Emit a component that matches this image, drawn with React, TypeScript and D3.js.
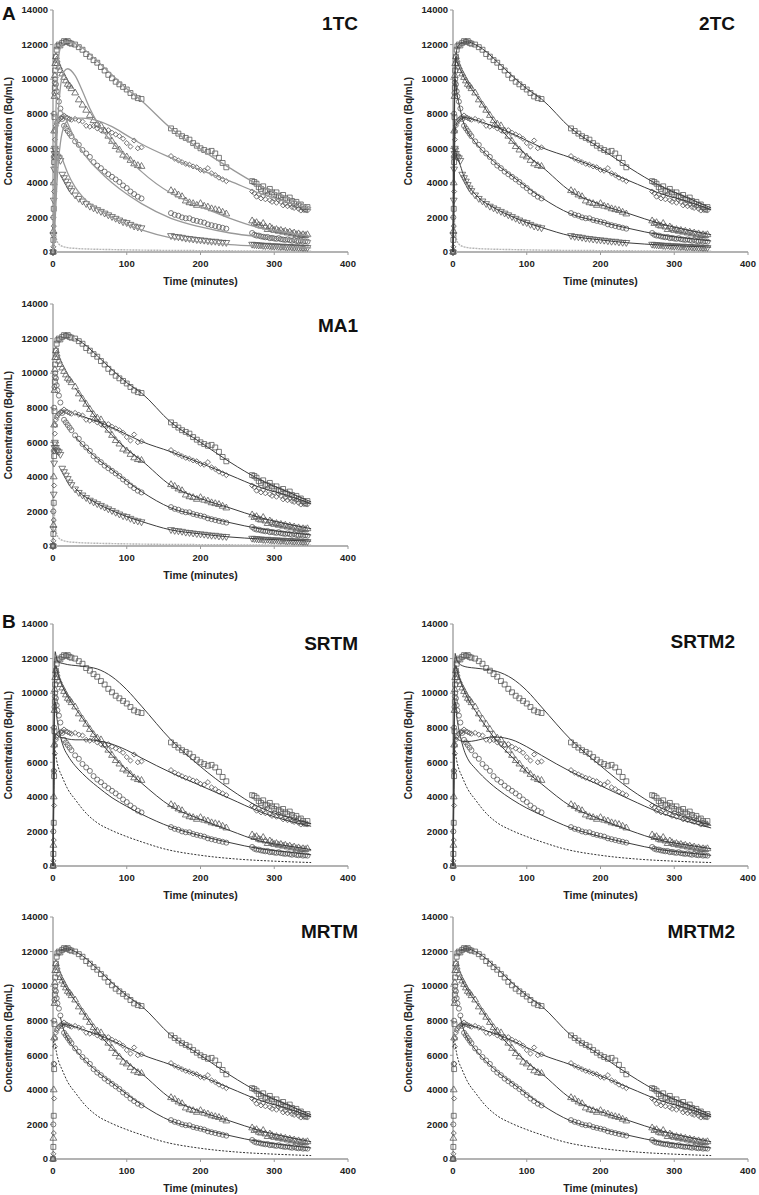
import React from "react";
import * as d3 from "d3";

// frame mid-times (minutes), three scan sessions
const time = [
  0, 0.5, 1, 1.5, 2, 2.5, 3, 4, 5, 6, 8, 10, 12.5, 15, 17.5, 20, 22.5, 25, 30, 35, 40, 45, 50, 55, 60, 65, 70, 75, 80, 85, 90, 95, 100, 105, 110, 115, 120,
  160, 165, 170, 175, 180, 185, 190, 195, 200, 205, 210, 215, 220, 225, 230, 235,
  270, 273, 276, 279, 282, 285, 288, 291, 294, 297, 300, 303, 306, 309, 312, 315, 318, 321, 324, 327, 330, 333, 336, 339, 342, 345,
];

// measured regional TACs (Bq/mL)
const squares = [
  0, 700, 2500, 5200, 7800, 9500, 10500, 11300, 11700, 11900, 12000, 11950, 12100, 12200, 12150, 12200, 12100, 12050, 12000, 11850, 11700, 11450, 11300, 11100, 10950, 10700, 10500, 10250, 10050, 9850, 9700, 9550, 9400, 9200, 9000, 8900, 8850,
  7150, 7000, 6850, 6700, 6600, 6500, 6300, 6150, 6000, 5900, 5800, 5850, 5700, 5450, 5150, 4900,
  4100, 4050, 3950, 3750, 3650, 3800, 3550, 3500, 3650, 3450, 3300, 3450, 3250, 3150, 3300, 3100, 3000, 3150, 2950, 2800, 2900, 2700, 2750, 2600, 2450, 2600,
];
const diamonds = [
  0, 300, 1500, 3500, 5500, 6500, 7000, 7300, 7450, 7550, 7650, 7750, 7800, 7900, 7800, 7750, 7700, 7650, 7700, 7600, 7550, 7300, 7250, 7300, 7150, 7050, 7000, 7050, 6900, 6800, 6700, 6550, 6300, 6100, 6450, 6000, 6050,
  5550, 5400, 5300, 5200, 5100, 5050, 4950, 4900, 4750, 4700, 4850, 4550, 4450, 4300, 4200, 4100,
  3500, 3400, 3200, 3350, 3100, 3250, 3050, 3350, 3000, 2900, 3100, 2850, 3000, 2900, 2700, 2800, 2650, 2750, 2600, 2550, 2650, 2500, 2400, 2500, 2450, 2400,
];
const triangles = [
  0, 1200, 4000, 7000, 9000, 10200, 10900, 11300, 11100, 10900, 10700, 10500, 10300, 10100, 9900, 9700, 9600, 9450, 9200, 8800, 8500, 8200, 7900, 7600, 7400, 7300, 7000, 6700, 6400, 6100, 5900, 5600, 5500, 5300, 5100, 5000, 4950,
  3550, 3450, 3300, 3200, 2950, 2850, 2800, 2700, 2800, 2650, 2600, 2500, 2450, 2400, 2300, 2200,
  1800, 1650, 1700, 1550, 1500, 1650, 1450, 1300, 1450, 1350, 1250, 1300, 1200, 1250, 1150, 1200, 1100, 1150, 1050, 1100, 1000, 1050, 950, 1000, 950, 1000,
];
const circles = [
  0, 2000, 5500, 8000, 9200, 9800, 10000, 9700, 9300, 9000, 8700, 8300, 7700, 7300, 7150, 7000, 6850, 6700, 6400, 6200, 5900, 5700, 5500, 5200, 5000, 4850, 4650, 4500, 4350, 4200, 4050, 3850, 3700, 3500, 3350, 3200, 3100,
  2250, 2150, 2100, 2000, 1950, 1950, 1850, 1800, 1750, 1700, 1600, 1550, 1500, 1450, 1400, 1350,
  1100, 1000, 950, 950, 900, 880, 850, 870, 800, 820, 780, 760, 800, 740, 720, 700, 730, 680, 650, 700, 640, 620, 660, 600, 620, 600,
];
const invTriangles = [
  0, 1000, 3000, 4800, 5700, 6000, 5900, 5700, 5550, 5500, 5450, 5300, 4500, 4300, 4100, 3900, 3700, 3550, 3300, 3100, 2950, 2800, 2650, 2550, 2450, 2350, 2250, 2150, 2050, 1950, 1850, 1750, 1700, 1600, 1500, 1450, 1400,
  950, 900, 880, 850, 800, 780, 750, 720, 700, 680, 650, 620, 620, 580, 560, 550,
  450, 430, 420, 400, 410, 380, 370, 390, 360, 350, 340, 360, 330, 320, 340, 310, 300, 320, 290, 280, 300, 270, 280, 260, 270, 260,
];

// arterial plasma input (panel A) and reference region curve (panel B)
const plasmaTime = [0, 0.5, 1, 1.5, 2, 3, 4, 5, 7.5, 10, 15, 20, 30, 50, 80, 120, 200, 280, 350];
const plasmaConc = [0, 3000, 2600, 2200, 1800, 1200, 900, 700, 480, 380, 300, 250, 210, 170, 140, 110, 80, 60, 50];
const refTime = [0.8, 1, 2, 3, 5, 8, 12, 20, 30, 45, 60, 80, 100, 120, 150, 200, 250, 300, 350];
const refConc = [6500, 7000, 6900, 6600, 6100, 5600, 5200, 4450, 3850, 3050, 2500, 2050, 1700, 1400, 1000, 620, 400, 280, 200];

// model fits, sampled at these times
const fitTime = [0, 1, 2, 3, 4, 5, 7.5, 10, 15, 20, 30, 40, 50, 60, 80, 100, 120, 160, 200, 240, 280, 320, 350];

const goodSquares = [0, 2500, 7800, 10500, 11300, 11700, 11950, 12050, 12150, 12150, 12000, 11750, 11400, 11000, 10200, 9450, 8850, 7150, 6000, 4850, 3850, 3100, 2550];
const goodDiamonds = [0, 1500, 5500, 7000, 7300, 7450, 7600, 7700, 7800, 7750, 7650, 7500, 7350, 7200, 6850, 6450, 6050, 5450, 4800, 4100, 3400, 2900, 2450];
const goodTriangles = [0, 4000, 9000, 10900, 11300, 11100, 10800, 10550, 10100, 9750, 9150, 8550, 7900, 7350, 6400, 5600, 4950, 3500, 2750, 2200, 1650, 1250, 1000];
const goodCircles = [0, 5500, 9200, 10000, 9700, 9300, 8700, 8200, 7400, 6950, 6350, 5850, 5450, 5050, 4400, 3750, 3150, 2200, 1750, 1350, 1000, 780, 640];
const goodInvTriangles = [0, 3000, 5700, 5950, 5750, 5550, 5300, 5000, 4350, 3900, 3350, 2950, 2700, 2450, 2050, 1700, 1420, 930, 700, 520, 410, 330, 280];

const oneTcSquares = [0, 1500, 4000, 6300, 8200, 9500, 11200, 11800, 12100, 12150, 12050, 11800, 11450, 11050, 10250, 9450, 8750, 7150, 5950, 4850, 3850, 3100, 2550];
const oneTcDiamonds = [0, 300, 1000, 1900, 2800, 3700, 5300, 6300, 7300, 7600, 7750, 7750, 7700, 7600, 7250, 6750, 6250, 5450, 4750, 4100, 3400, 2850, 2450];
const oneTcTriangles = [0, 800, 2200, 3700, 5000, 6200, 8300, 9500, 10450, 10600, 10200, 9300, 8300, 7500, 6350, 5500, 4650, 3400, 2650, 1950, 1400, 1100, 900];
const oneTcCircles = [0, 1000, 3000, 4800, 6200, 7200, 8100, 8200, 7900, 7450, 6500, 5800, 5250, 4800, 4000, 3350, 2800, 1950, 1450, 1100, 880, 740, 660];
const oneTcInvTriangles = [0, 700, 2000, 3300, 4300, 5000, 5600, 5650, 5100, 4550, 3750, 3200, 2800, 2500, 2000, 1600, 1280, 820, 580, 430, 340, 280, 240];

const srtmSquares = [0, 5500, 10500, 12400, 12200, 12000, 11800, 11750, 11700, 11650, 11600, 11550, 11500, 11400, 10950, 10200, 9250, 7300, 5750, 4450, 3400, 2800, 2450];
const srtmDiamonds = [0, 3000, 6500, 7500, 7650, 7600, 7500, 7450, 7400, 7350, 7300, 7300, 7300, 7250, 7050, 6700, 6250, 5400, 4650, 3900, 3150, 2600, 2300];
const srtmTriangles = [0, 5000, 10000, 11500, 11600, 11400, 11000, 10700, 10200, 9800, 9150, 8550, 7950, 7400, 6400, 5550, 4800, 3450, 2700, 2050, 1450, 1150, 950];
const srtmCircles = [0, 4500, 8500, 9500, 9200, 8700, 8000, 7500, 6800, 6400, 5800, 5350, 4950, 4600, 3950, 3450, 3000, 2250, 1750, 1350, 1000, 800, 650];

const srtm2Squares = [0, 5500, 10500, 12300, 12100, 11950, 11750, 11650, 11550, 11500, 11450, 11400, 11350, 11250, 10850, 10150, 9200, 7300, 5800, 4450, 3400, 2750, 2350];
const srtm2Diamonds = [0, 3000, 6500, 7400, 7450, 7400, 7300, 7250, 7200, 7200, 7250, 7350, 7450, 7450, 7300, 6900, 6400, 5450, 4650, 3850, 3100, 2550, 2200];
const srtm2Triangles = [0, 5000, 10000, 11500, 11600, 11400, 11000, 10700, 10150, 9700, 9000, 8350, 7750, 7200, 6300, 5450, 4750, 3450, 2700, 2050, 1500, 1200, 1000];
const srtm2Circles = [0, 4500, 8500, 9500, 9200, 8700, 8000, 7500, 6700, 6200, 5650, 5200, 4800, 4450, 3850, 3350, 2950, 2200, 1700, 1300, 950, 750, 620];

const yTicks = [0, 2000, 4000, 6000, 8000, 10000, 12000, 14000];
const xTicks = [0, 100, 200, 300, 400];

const FONT = "'Liberation Sans', Arial, Helvetica, sans-serif";
const plotW = 295;
const plotH = 242;
const colX = [53, 453];
const titleRight = [358, 735];

type Fits = { s: number[]; d: number[]; t: number[]; c: number[]; v?: number[] };
type PanelCfg = {
  title: string; col: number; top: number; titleY: number;
  fits: Fits; fitStart: number; fitColor: string; fitWidth: number;
  showInv: boolean; input: "plasma" | "ref";
};

const good: Fits = { s: goodSquares, d: goodDiamonds, t: goodTriangles, c: goodCircles, v: goodInvTriangles };

const panels: PanelCfg[] = [
  { title: "1TC", col: 0, top: 10, titleY: 30, fits: { s: oneTcSquares, d: oneTcDiamonds, t: oneTcTriangles, c: oneTcCircles, v: oneTcInvTriangles }, fitStart: 0, fitColor: "#999", fitWidth: 1.3, showInv: true, input: "plasma" },
  { title: "2TC", col: 1, top: 10, titleY: 30, fits: good, fitStart: 0, fitColor: "#3c3c3c", fitWidth: 1, showInv: true, input: "plasma" },
  { title: "MA1", col: 0, top: 304, titleY: 332, fits: good, fitStart: 30, fitColor: "#3c3c3c", fitWidth: 1, showInv: true, input: "plasma" },
  { title: "SRTM", col: 0, top: 624, titleY: 650, fits: { s: srtmSquares, d: srtmDiamonds, t: srtmTriangles, c: srtmCircles }, fitStart: 0, fitColor: "#3c3c3c", fitWidth: 1, showInv: false, input: "ref" },
  { title: "SRTM2", col: 1, top: 624, titleY: 648, fits: { s: srtm2Squares, d: srtm2Diamonds, t: srtm2Triangles, c: srtm2Circles }, fitStart: 0, fitColor: "#3c3c3c", fitWidth: 1, showInv: false, input: "ref" },
  { title: "MRTM", col: 0, top: 917, titleY: 938, fits: good, fitStart: 10, fitColor: "#3c3c3c", fitWidth: 1, showInv: false, input: "ref" },
  { title: "MRTM2", col: 1, top: 917, titleY: 938, fits: good, fitStart: 10, fitColor: "#3c3c3c", fitWidth: 1, showInv: false, input: "ref" },
];

const symSquare = d3.symbol().type(d3.symbolSquare).size(24)() as string;
const symCircle = d3.symbol().type(d3.symbolCircle).size(20)() as string;
const symTriangle = d3.symbol().type(d3.symbolTriangle).size(20)() as string;
const symDiamond = d3.symbol().type(d3.symbolSquare).size(13)() as string; // drawn rotated 45°

const Panel = ({ cfg }: { cfg: PanelCfg }) => {
  const x0 = colX[cfg.col];
  const x = d3.scaleLinear().domain([0, 400]).range([x0, x0 + plotW]);
  const y = d3.scaleLinear().domain([0, 14000]).range([cfg.top + plotH, cfg.top]);

  const fitLine = (vals: number[]) => {
    const pts = fitTime.map((t, i) => [t, vals[i]] as [number, number]).filter((p) => p[0] >= cfg.fitStart);
    return d3.line<[number, number]>().x((p) => x(p[0])).y((p) => y(p[1])).curve(d3.curveMonotoneX)(pts) || "";
  };
  const inputPath =
    cfg.input === "plasma"
      ? d3.line<number>().x((_, i) => x(plasmaTime[i])).y((d) => y(d)).curve(d3.curveMonotoneX)(plasmaConc)
      : d3.line<number>().x((_, i) => x(refTime[i])).y((d) => y(d)).curve(d3.curveMonotoneX)(refConc);

  const series: { vals: number[]; sym: string; rot?: number }[] = [
    { vals: squares, sym: symSquare },
    { vals: diamonds, sym: symDiamond, rot: 45 },
    { vals: triangles, sym: symTriangle },
    { vals: circles, sym: symCircle },
  ];
  if (cfg.showInv) series.push({ vals: invTriangles, sym: symTriangle, rot: 180 });

  const fitList = [cfg.fits.s, cfg.fits.d, cfg.fits.t, cfg.fits.c];
  if (cfg.showInv && cfg.fits.v) fitList.push(cfg.fits.v);

  const yMid = cfg.top + plotH / 2;
  const axisColor = "#9a9a9a";

  return (
    <g>
      {/* axes */}
      <line x1={x0} x2={x0} y1={y(0)} y2={y(14000)} stroke={axisColor} strokeWidth={1.3} />
      <line x1={x0} x2={x(400)} y1={y(0)} y2={y(0)} stroke={axisColor} strokeWidth={1.3} />
      {yTicks.map((v) => (
        <g key={"y" + v}>
          <line x1={x0 - 3} x2={x0} y1={y(v)} y2={y(v)} stroke={axisColor} />
          <text x={x0 - 5} y={y(v)} dy="0.35em" textAnchor="end" fontSize={9.5} fontWeight="bold" fill="#222" fontFamily={FONT}>
            {v}
          </text>
        </g>
      ))}
      {xTicks.map((v) => (
        <g key={"x" + v}>
          <line x1={x(v)} x2={x(v)} y1={y(0)} y2={y(0) + 3} stroke={axisColor} />
          <text x={x(v)} y={y(0) + 15} textAnchor="middle" fontSize={9.5} fontWeight="bold" fill="#222" fontFamily={FONT}>
            {v}
          </text>
        </g>
      ))}
      <text x={x(200)} y={y(0) + 33} textAnchor="middle" fontSize={10.5} fontWeight="bold" fill="#222" fontFamily={FONT}>
        Time (minutes)
      </text>
      <text transform={`translate(${x0 - 45},${yMid}) rotate(-90)`} textAnchor="middle" dy="0.35em" fontSize={10} fontWeight="bold" fill="#222" fontFamily={FONT}>
        Concentration (Bq/mL)
      </text>
      <text x={titleRight[cfg.col]} y={cfg.titleY} textAnchor="end" fontSize={19} fontWeight="bold" fill="#111" fontFamily={FONT}>
        {cfg.title}
      </text>

      {/* input curve */}
      <path
        d={inputPath || ""}
        fill="none"
        stroke={cfg.input === "plasma" ? "#b5b5b5" : "#333"}
        strokeWidth={cfg.input === "plasma" ? 1.4 : 1}
        strokeDasharray={cfg.input === "plasma" ? "2,1" : "2,1.5"}
      />

      {/* data */}
      {series.map((s, si) =>
        s.vals.map((v, i) => (
          <path
            key={si + "-" + i}
            d={s.sym}
            transform={`translate(${x(time[i])},${y(v)})${s.rot ? ` rotate(${s.rot})` : ""}`}
            fill="none"
            stroke="#5a5a5a"
            strokeWidth={0.8}
          />
        ))
      )}

      {/* fits */}
      {fitList.map((f, i) => (
        <path key={"f" + i} d={fitLine(f)} fill="none" stroke={cfg.fitColor} strokeWidth={cfg.fitWidth} />
      ))}
    </g>
  );
};

export default function App() {
  return (
    <svg width={759} height={1195} style={{ position: "absolute", left: 0, top: 0, background: "#fff" }}>
      <rect width={759} height={1195} fill="#fff" />
      <text x={2} y={20} fontSize={19} fontWeight="bold" fontFamily={FONT} fill="#111">A</text>
      <text x={2} y={628} fontSize={19} fontWeight="bold" fontFamily={FONT} fill="#111">B</text>
      {panels.map((p) => (
        <Panel key={p.title} cfg={p} />
      ))}
    </svg>
  );
}
